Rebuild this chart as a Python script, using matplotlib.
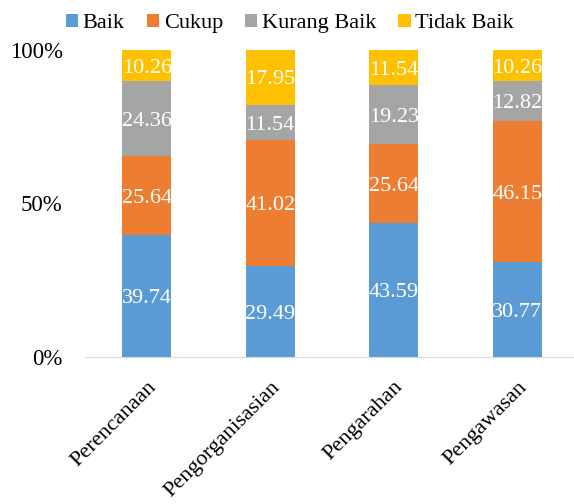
import numpy as np
import matplotlib
matplotlib.use('Agg')
import matplotlib.pyplot as plt

plt.rcParams['font.family'] = ['Liberation Serif', 'DejaVu Serif']

# Data
kategori = ['Perencanaan', 'Pengorganisasian', 'Pengarahan', 'Pengawasan']
baik = [39.74, 29.49, 43.59, 30.77]
cukup = [25.64, 41.02, 25.64, 46.15]
kurang_baik = [24.36, 11.54, 19.23, 12.82]
tidak_baik = [10.26, 17.95, 11.54, 10.26]

series = [('Baik', baik, '#5B9BD5'),
          ('Cukup', cukup, '#ED7D31'),
          ('Kurang Baik', kurang_baik, '#A5A5A5'),
          ('Tidak Baik', tidak_baik, '#FFC000')]

fig = plt.figure(figsize=(5.74, 5.04), dpi=100)
ax = fig.add_axes([0.148, 0.292, 0.85, 0.609])

x = np.arange(len(kategori))
bottom = np.zeros(len(kategori))
for nama, nilai, warna in series:
    bars = ax.bar(x, nilai, 0.4, bottom=bottom, color=warna, label=nama)
    for b, v, b0 in zip(bars, nilai, bottom):
        ax.text(b.get_x() + b.get_width() / 2, b0 + v / 2, f'{v:.2f}',
                ha='center', va='center_baseline', color='white', fontsize=16)
    bottom += np.array(nilai)

ax.set_xlim(-0.5, 3.45)
ax.set_ylim(0, 100)
ax.set_yticks([0, 50, 100])
ax.set_yticklabels(['0%', '50%', '100%'], fontsize=16.5)
ax.set_xticks(x)
ax.set_xticklabels(kategori, rotation=45, ha='right', rotation_mode='anchor', fontsize=16)
ax.tick_params(axis='x', length=0, pad=15)
ax.tick_params(axis='y', length=0, pad=16)
for s in ['top', 'right', 'left']:
    ax.spines[s].set_visible(False)
ax.spines['bottom'].set_color('#D9D9D9')

ax.legend(loc='lower center', bbox_to_anchor=(0.42, 1.01), ncol=4, frameon=False,
          fontsize=16, handlelength=0.55, handleheight=0.55, handletextpad=0.2,
          columnspacing=1.0, borderaxespad=0.2)

fig.savefig('out.png', dpi=100)
